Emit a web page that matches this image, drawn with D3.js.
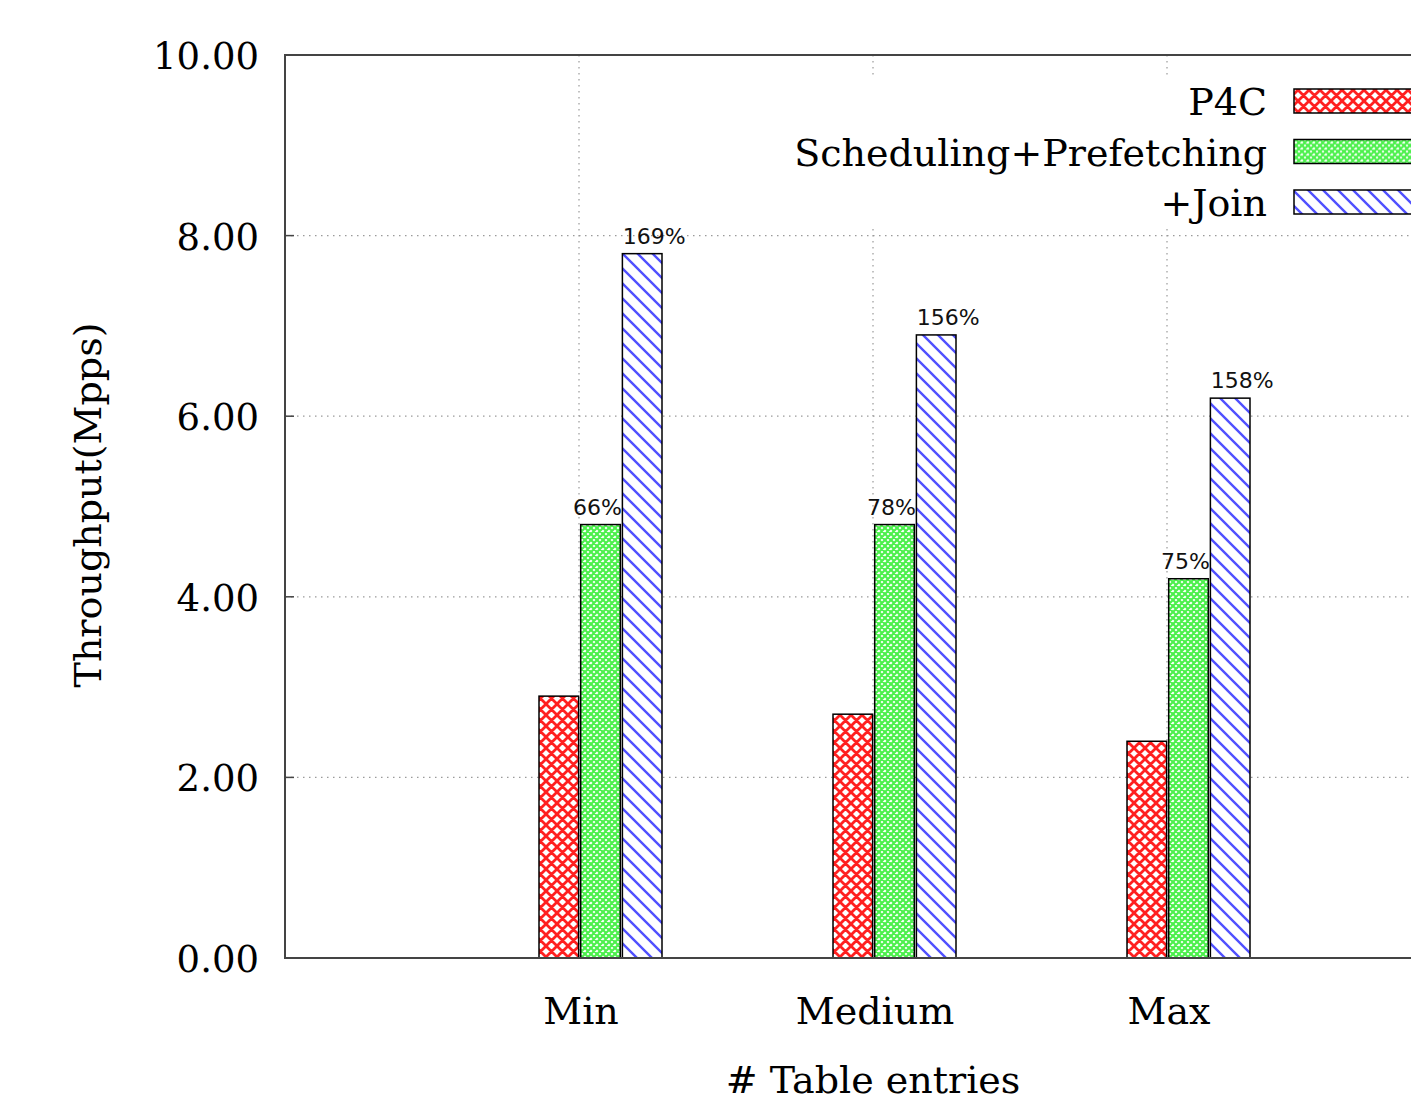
<!DOCTYPE html>
<html>
<head>
<meta charset="utf-8">
<script src="https://cdn.jsdelivr.net/npm/d3@7"></script>
<style>
  html, body { margin: 0; padding: 0; background: #fff; }
  svg { display: block; }
  .serif { font-family: "DejaVu Serif", serif; fill: #000; }
  .pct { font-family: "DejaVu Sans", sans-serif; font-size: 22px; fill: #111; }
</style>
</head>
<body>
<svg id="chart" width="1411" height="1101"></svg>
<script>
const categories = ['Min', 'Medium', 'Max'];
const seriesNames = ['P4C', 'Scheduling+Prefetching', '+Join'];
const p4cValues = [2.9, 2.7, 2.4];
const schedValues = [4.8, 4.8, 4.2];
const joinValues = [7.8, 6.9, 6.2];
const schedGain = ['66%', '78%', '75%'];
const joinGain = ['169%', '156%', '158%'];
const yTicks = [0, 2, 4, 6, 8, 10];

const W = 1411;
const svg = d3.select('#chart');

const x = d3.scaleLinear().domain([0, 4]).range([285, 1461]);
const y = d3.scaleLinear().domain([0, 10]).range([958, 55]);
const inner = d3.scaleBand().domain(seriesNames).range([-40, 83]).paddingInner(0.05);

const seriesValues = [p4cValues, schedValues, joinValues];
const patternIds = ['pat-red', 'pat-green', 'pat-blue'];

// hatch patterns, gnuplot style
const defs = svg.append('defs');

function makePattern(id, size, bg, stroke, sw, d) {
	const p = defs.append('pattern')
		.attr('id', id)
		.attr('patternUnits', 'userSpaceOnUse')
		.attr('width', size)
		.attr('height', size);
	p.append('rect').attr('width', size).attr('height', size).attr('fill', bg);
	p.append('path').attr('d', d).attr('stroke', stroke).attr('stroke-width', sw).attr('fill', 'none');
}
makePattern('pat-red', 11, '#fff', '#ff2020', 2.8,
	'M0,0L11,11M11,0L0,11M-2,9L2,13M9,-2L13,2M-2,2L2,-2M9,13L13,9');
makePattern('pat-green', 6, '#fff', '#4cf04c', 2.2,
	'M0,0L6,6M6,0L0,6M-1,5L1,7M5,-1L7,1M-1,1L1,-1M5,7L7,5');
makePattern('pat-blue', 15, '#fff', '#5050ff', 2.4,
	'M0,0L15,15M-2,13L2,17M13,-2L17,2');

// grid
const grid = svg.append('g');
grid.selectAll('line.hgrid')
	.data(yTicks.slice(1, -1))
	.enter()
	.append('line')
	.attr('x1', x(0)).attr('x2', W)
	.attr('y1', d => y(d)).attr('y2', d => y(d))
	.attr('stroke', '#9a9a9a').attr('stroke-width', 1.2)
	.attr('stroke-dasharray', '1.5,4.5');
grid.selectAll('line.vgrid')
	.data(categories)
	.enter()
	.append('line')
	.attr('x1', (d, i) => x(i + 1)).attr('x2', (d, i) => x(i + 1))
	.attr('y1', y(10)).attr('y2', y(0))
	.attr('stroke', '#9a9a9a').attr('stroke-width', 1.2)
	.attr('stroke-dasharray', '1.5,4.5');

// bars
const groups = svg.append('g').selectAll('g')
	.data(categories)
	.enter()
	.append('g')
	.attr('transform', (d, i) => `translate(${x(i + 1)},0)`);

seriesNames.forEach((s, k) => {
	groups.append('rect')
		.attr('x', inner(s))
		.attr('width', inner.bandwidth())
		.attr('y', (d, i) => y(seriesValues[k][i]))
		.attr('height', (d, i) => y(0) - y(seriesValues[k][i]))
		.attr('fill', `url(#${patternIds[k]})`)
		.attr('stroke', '#000')
		.attr('stroke-width', 1.5);
});

// gain labels
groups.append('text')
	.attr('class', 'pct')
	.attr('text-anchor', 'middle')
	.attr('x', inner(seriesNames[1]) + inner.bandwidth() / 2 - 3)
	.attr('y', (d, i) => y(schedValues[i]) - 10)
	.text((d, i) => schedGain[i]);
groups.append('text')
	.attr('class', 'pct')
	.attr('text-anchor', 'middle')
	.attr('x', inner(seriesNames[2]) + inner.bandwidth() / 2 + 12)
	.attr('y', (d, i) => y(joinValues[i]) - 10)
	.text((d, i) => joinGain[i]);

// frame
svg.append('rect')
	.attr('x', x(0)).attr('y', y(10))
	.attr('width', x(4) - x(0)).attr('height', y(0) - y(10))
	.attr('fill', 'none').attr('stroke', '#444').attr('stroke-width', 2);

// y ticks (inward) + labels
const yAxis = svg.append('g');
yAxis.selectAll('line')
	.data(yTicks)
	.enter()
	.append('line')
	.attr('x1', x(0)).attr('x2', x(0) + 9)
	.attr('y1', d => y(d)).attr('y2', d => y(d))
	.attr('stroke', '#444').attr('stroke-width', 1.5);
yAxis.selectAll('text')
	.data(yTicks)
	.enter()
	.append('text')
	.attr('class', 'serif')
	.attr('font-size', 37)
	.attr('text-anchor', 'end')
	.attr('x', 259)
	.attr('y', d => y(d) + 14)
	.text(d3.format('.2f'));

// category labels
svg.append('g').selectAll('text')
	.data(categories)
	.enter()
	.append('text')
	.attr('class', 'serif')
	.attr('font-size', 38)
	.attr('text-anchor', 'middle')
	.attr('x', (d, i) => x(i + 1) + 2)
	.attr('y', 1024)
	.text(d => d);

// axis titles
svg.append('text')
	.attr('class', 'serif')
	.attr('font-size', 38)
	.attr('text-anchor', 'middle')
	.attr('x', 873)
	.attr('y', 1093)
	.text('# Table entries');
svg.append('text')
	.attr('class', 'serif')
	.attr('font-size', 38)
	.attr('text-anchor', 'middle')
	.attr('transform', 'translate(101,505) rotate(-90)')
	.text('Throughput(Mpps)');

// legend
const legend = svg.append('g');
legend.append('rect')
	.attr('x', 775).attr('y', 77)
	.attr('width', W - 775).attr('height', 149)
	.attr('fill', '#fff');
const rows = legend.selectAll('g')
	.data(seriesNames)
	.enter()
	.append('g')
	.attr('transform', (d, i) => `translate(0,${101 + i * 50.5})`);
rows.append('text')
	.attr('class', 'serif')
	.attr('font-size', 38)
	.attr('text-anchor', 'end')
	.attr('x', 1267)
	.attr('y', 14)
	.text(d => d);
rows.append('rect')
	.attr('x', 1294).attr('y', -12)
	.attr('width', 160).attr('height', 24)
	.attr('fill', (d, i) => `url(#${patternIds[i]})`)
	.attr('stroke', '#000').attr('stroke-width', 1.5);
</script>
</body>
</html>
